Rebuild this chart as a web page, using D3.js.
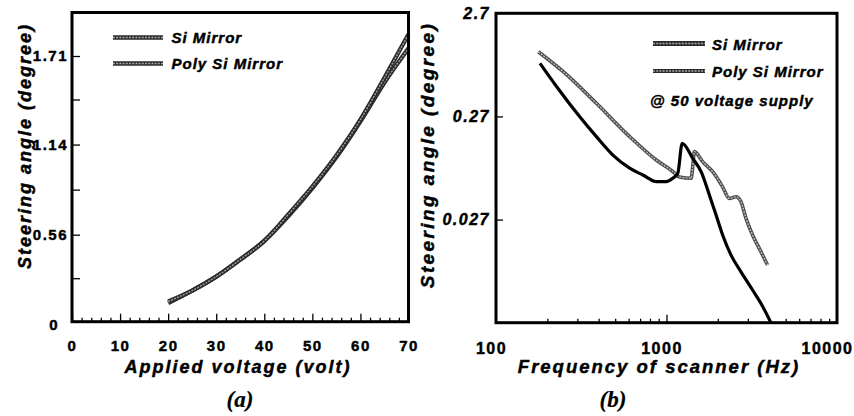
<!DOCTYPE html>
<html><head><meta charset="utf-8">
<script src="https://cdn.jsdelivr.net/npm/d3@7"></script>
<style>
html,body{margin:0;padding:0;background:#fff;}
svg{display:block;}
text{font-family:"Liberation Sans",Arial,sans-serif;font-weight:bold;fill:#000;stroke:#000;stroke-width:0.45px;}
</style></head>
<body>
<svg id="chart" width="854" height="416"></svg>
<script>
// ---------- Panel (a) data ----------
const voltage   = [20, 25, 30, 35, 40, 45, 50, 55, 60, 65, 70];
const siAngle   = [0.13, 0.20, 0.29, 0.40, 0.52, 0.69, 0.87, 1.07, 1.30, 1.57, 1.85];
const polyAngle = [0.12, 0.20, 0.29, 0.40, 0.52, 0.68, 0.86, 1.06, 1.29, 1.54, 1.76];
const aXTicks = [0, 10, 20, 30, 40, 50, 60, 70];
const aXMinor = [2,4,6,8,12,14,16,18,22,24,26,28,32,34,36,38,42,44,46,48,52,54,56,58,62,64,66,68];
const aYTicks = [0, 0.56, 1.14, 1.71];
const aYLabels = ["0", "0.56", "1.14", "1.71"];
const aYMinor = [0.28, 0.85, 1.43];

// ---------- Panel (b) data ----------
const siFreq = [181, 227, 310, 388, 485, 608, 727, 871, 996, 1088, 1165, 1236, 1425, 1596, 1784, 1953, 2134, 2390, 2734, 3197, 3658, 4096];
const siResp = [0.884, 0.524, 0.268, 0.172, 0.114, 0.085, 0.073, 0.063, 0.063, 0.068, 0.076, 0.148, 0.106, 0.0786, 0.0467, 0.0299, 0.0191, 0.0122, 0.0084, 0.0056, 0.0039, 0.0027];
const polyFreq = [177, 248, 388, 608, 871, 1088, 1191, 1394, 1425, 1458, 1631, 1866, 2134, 2335, 2556, 2734, 2925, 3197, 3499, 3912];
const polyResp = [1.145, 0.733, 0.362, 0.172, 0.102, 0.079, 0.070, 0.068, 0.088, 0.123, 0.098, 0.0786, 0.056, 0.0433, 0.0449, 0.0402, 0.0277, 0.0191, 0.0142, 0.0098];
const bXTicks = [100, 1000, 10000];
const bXMinor = [200,300,400,500,600,700,800,900,2000,3000,4000,5000,6000,7000,8000,9000];
const bYTicks = [2.7, 0.27, 0.027];
const bYLabels = ["2.7", "0.27", "0.027"];

const seriesNames = ["Si Mirror", "Poly Si Mirror"];

const svg = d3.select("#chart");

// ===== Panel (a) =====
const xA = d3.scaleLinear().domain([0, 70]).range([72, 408.5]);
const yA = d3.scaleLinear().domain([0, 1.99]).range([321.7, 12.5]);

function styleTicks(g){
  g.select(".domain").remove();
  g.selectAll(".tick line").attr("stroke", "#000").attr("stroke-width", 1.3);
}
function styleLabels(sel, size, italic){
  sel.attr("font-size", size).attr("letter-spacing", 1.5)
    .attr("font-family","Liberation Sans, Arial, sans-serif").attr("font-weight","bold")
    .attr("font-style", italic ? "italic" : "normal");
}

const axA = svg.append("g").attr("transform", `translate(0,${yA(0)})`)
  .call(d3.axisBottom(xA).tickValues(aXTicks).tickSize(-8).tickPadding(18.5));
styleTicks(axA);
styleLabels(axA.selectAll("text"), 15, false);
svg.append("g").attr("transform", `translate(0,${yA(0)})`)
  .call(d3.axisBottom(xA).tickValues(aXMinor).tickSize(-4).tickFormat(""))
  .call(styleTicks);

const ayA = svg.append("g").attr("transform", `translate(${xA(0)},0)`)
  .call(d3.axisLeft(yA).tickValues(aYTicks).tickSize(-8).tickPadding(4)
        .tickFormat((d,i) => aYLabels[i]));
styleTicks(ayA);
styleLabels(ayA.selectAll("text"), 15, false);
ayA.selectAll(".tick").filter(d => d === 0).select("text").attr("x", -13).attr("dy", "0.5em");
ayA.selectAll(".tick").filter(d => d === 0).select("line").remove();
svg.append("g").attr("transform", `translate(${xA(0)},0)`)
  .call(d3.axisLeft(yA).tickValues(aYMinor).tickSize(-8).tickFormat(""))
  .call(styleTicks);

const lineA = d3.line().curve(d3.curveMonotoneX);
function ropeA(vals, w){
  const pts = voltage.map((v,i) => [xA(v), yA(vals[i])]);
  svg.append("path").attr("d", lineA(pts)).attr("fill","none")
    .attr("stroke","#2b2b2b").attr("stroke-width", w).attr("stroke-linecap","butt");
  svg.append("path").attr("d", lineA(pts)).attr("fill","none")
    .attr("stroke","#a0a0a0").attr("stroke-width", 1.4).attr("stroke-dasharray","2,1.2");
}
ropeA(polyAngle, 4.4);
ropeA(siAngle, 4.4);

// frame (a)
svg.append("rect").attr("x", xA(0)).attr("y", yA.range()[1])
  .attr("width", xA(70) - xA(0)).attr("height", yA(0) - yA.range()[1])
  .attr("fill","none").attr("stroke","#000").attr("stroke-width", 3);

// legend (a)
function legendLine(x1, x2, y, w){
  svg.append("line").attr("x1",x1).attr("x2",x2).attr("y1",y).attr("y2",y)
    .attr("stroke","#2b2b2b").attr("stroke-width",w);
  svg.append("line").attr("x1",x1).attr("x2",x2).attr("y1",y).attr("y2",y)
    .attr("stroke","#a8a8a8").attr("stroke-width",1.4).attr("stroke-dasharray","2,1.2");
}
const legA = [{y:37.5, ty:42.5}, {y:63.5, ty:69}];
seriesNames.forEach((n,i) => {
  legendLine(113, 163, legA[i].y, 4.4);
  svg.append("text").attr("x",171.5).attr("y",legA[i].ty).attr("font-size",15)
    .attr("font-style","italic").attr("letter-spacing",1).text(n);
});

// titles (a)
svg.append("text").attr("x", 238).attr("y", 373).attr("text-anchor","middle")
  .attr("font-size",18).attr("font-style","italic").attr("letter-spacing",2)
  .text("Applied voltage (volt)");
svg.append("text").attr("transform","translate(31,146) rotate(-90)").attr("text-anchor","middle")
  .attr("font-size",18).attr("font-style","italic").attr("letter-spacing",2)
  .text("Steering angle (degree)");
svg.append("text").attr("x", 240).attr("y", 407).attr("text-anchor","middle")
  .attr("font-size",23).attr("font-style","italic").style("stroke-width","0.2px")
  .style("font-family","'Liberation Serif','Times New Roman',serif").text("(a)");

// ===== Panel (b) =====
const xB = d3.scaleLog().domain([100, 10000]).range([496, 837]);
const yB = d3.scaleLog().domain([0.0027, 2.7]).range([322.7, 13.3]);

const axB = svg.append("g").attr("transform", `translate(0,${yB.range()[0]})`)
  .call(d3.axisBottom(xB).tickValues(bXTicks).tickSize(-8).tickPadding(19.5)
        .tickFormat(d3.format("d")));
styleTicks(axB);
styleLabels(axB.selectAll("text"), 16, false);
axB.selectAll("text").attr("dx", -5);
axB.selectAll(".tick").filter(d => d === 10000).select("text")
  .attr("text-anchor","end").attr("dx", 16);
axB.selectAll(".tick").filter(d => d === 100 || d === 10000).select("line").remove();
svg.append("g").attr("transform", `translate(0,${yB.range()[0]})`)
  .call(d3.axisBottom(xB).tickValues(bXMinor).tickSize(-4).tickFormat(""))
  .call(styleTicks);

const ayB = svg.append("g").attr("transform", `translate(${xB(100)},0)`)
  .call(d3.axisLeft(yB).tickValues(bYTicks).tickSize(-7).tickPadding(6)
        .tickFormat((d,i) => bYLabels[i]));
styleTicks(ayB);
styleLabels(ayB.selectAll("text"), 16, true);
ayB.selectAll(".tick").filter(d => d === 2.7).select("line").remove();

const lineB = d3.line().curve(d3.curveMonotoneX);
const polyPts = polyFreq.map((f,i) => [xB(f), yB(polyResp[i])]);
svg.append("path").attr("d", lineB(polyPts)).attr("fill","none")
  .attr("stroke","#4a4a4a").attr("stroke-width", 3.6);
svg.append("path").attr("d", lineB(polyPts)).attr("fill","none")
  .attr("stroke","#bdbdbd").attr("stroke-width", 1.4).attr("stroke-dasharray","2,1.2");
const siPts = siFreq.map((f,i) => [xB(f), yB(siResp[i])]);
svg.append("path").attr("d", lineB(siPts)).attr("fill","none")
  .attr("stroke","#000").attr("stroke-width", 3.2).attr("stroke-linejoin","round");

// frame (b)
svg.append("rect").attr("x", xB(100)).attr("y", yB(2.7))
  .attr("width", xB(10000) - xB(100)).attr("height", yB(0.0027) - yB(2.7))
  .attr("fill","none").attr("stroke","#000").attr("stroke-width", 3);

// legend (b)
const legB = [{y:43.5, ty:50, w:5}, {y:71, ty:76.5, w:4.2}];
seriesNames.forEach((n,i) => {
  legendLine(653, 705, legB[i].y, legB[i].w);
  svg.append("text").attr("x",712).attr("y",legB[i].ty).attr("font-size",15)
    .attr("font-style","italic").attr("letter-spacing",1).text(n);
});
svg.append("text").attr("x",650).attr("y",106).attr("font-size",15)
  .attr("font-style","italic").attr("letter-spacing",1).text("@ 50 voltage supply");

// titles (b)
svg.append("text").attr("x", 659).attr("y", 373).attr("text-anchor","middle")
  .attr("font-size",18.5).attr("font-style","italic").attr("letter-spacing",2)
  .text("Frequency of scanner (Hz)");
svg.append("text").attr("transform","translate(434,155) rotate(-90)").attr("text-anchor","middle")
  .attr("font-size",19).attr("font-style","italic").attr("letter-spacing",2.4)
  .text("Steering angle (degree)");
svg.append("text").attr("x", 613).attr("y", 407).attr("text-anchor","middle")
  .attr("font-size",23).attr("font-style","italic").style("stroke-width","0.2px")
  .style("font-family","'Liberation Serif','Times New Roman',serif").text("(b)");
</script>
</body></html>
